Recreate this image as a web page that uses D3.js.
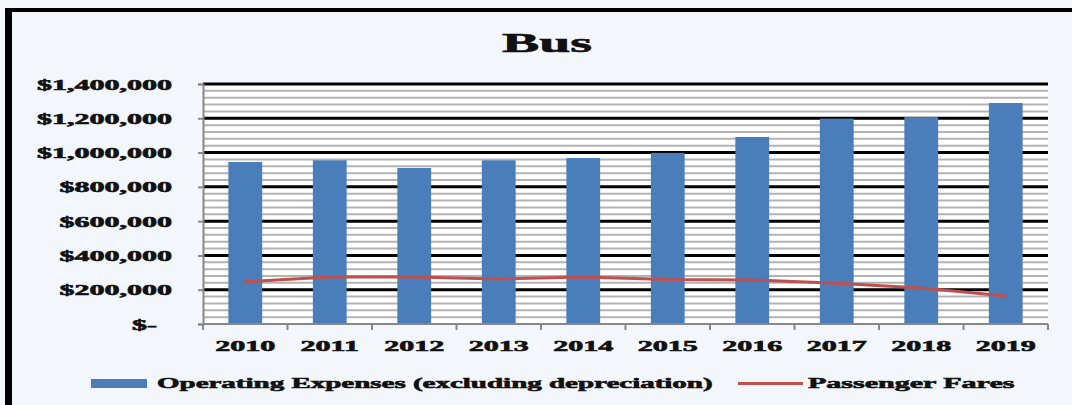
<!DOCTYPE html>
<html>
<head>
<meta charset="utf-8">
<script src="https://cdn.jsdelivr.net/npm/d3@7"></script>
<style>
  html, body { margin: 0; padding: 0; background: #f3f6fb; }
  svg { display: block; }
  text { font-family: "Liberation Serif", "DejaVu Serif", serif; font-weight: bold; fill: #111; stroke: #111; stroke-width: 0.6px; }
</style>
</head>
<body>
<svg id="chart" width="1072" height="405"></svg>
<script>
// Bus: annual operating expenses vs. passenger fares
const years = ["2010", "2011", "2012", "2013", "2014", "2015", "2016", "2017", "2018", "2019"];
const operatingExpenses = [945000, 955000, 910000, 955000, 968000, 998000, 1091000, 1198000, 1207000, 1289000];
const passengerFares = [247000, 274000, 274000, 262000, 274000, 260000, 257000, 237000, 210000, 163000];
const yTicks = [0, 200000, 400000, 600000, 800000, 1000000, 1200000, 1400000];
const yTickLabels = ["$-", "$200,000", "$400,000", "$600,000", "$800,000", "$1,000,000", "$1,200,000", "$1,400,000"];
const seriesNames = ["Operating Expenses (excluding depreciation)", "Passenger Fares"];

const W = 1072, H = 405;
const margin = { left: 203, right: 24, top: 84, bottom: 81 };
const stretch = 2.07;          // wide lettering used throughout
const legendStretch = 2.0;
const barColor = "#4a7ebb";
const lineColor = "#c0504d";

const svg = d3.select("#chart");

// horizontally widen text glyphs around their own anchor x
function widen(sel, f) {
  sel.each(function () {
    const t = d3.select(this);
    const x0 = +t.attr("x") || 0;
    t.attr("transform", `translate(${x0},0) scale(${f},1) translate(${-x0},0)`);
  });
}

// outer frame (top and left edges)
svg.append("rect").attr("x", 5).attr("y", 8).attr("width", W - 5).attr("height", 4).attr("fill", "#000");
svg.append("rect").attr("x", 5).attr("y", 8).attr("width", 7).attr("height", H - 8).attr("fill", "#000");

const x = d3.scaleBand().domain(years).range([margin.left, W - margin.right]).paddingInner(0.6).paddingOuter(0.3);
const y = d3.scaleLinear().domain([0, 1400000]).range([H - margin.bottom, margin.top]);

// plot background
svg.append("rect")
  .attr("x", margin.left).attr("y", y(1400000))
  .attr("width", W - margin.right - margin.left).attr("height", y(0) - y(1400000))
  .attr("fill", "#ffffff");

// minor gridlines every 40,000
const minor = d3.range(40000, 1400000, 40000).filter(v => v % 200000 !== 0);
svg.append("g").selectAll("line").data(minor).join("line")
  .attr("x1", margin.left).attr("x2", W - margin.right)
  .attr("y1", d => y(d)).attr("y2", d => y(d))
  .attr("stroke", "#b3b3b3").attr("stroke-width", 2);

// major gridlines
svg.append("g").selectAll("line").data(yTicks.filter(v => v > 0)).join("line")
  .attr("x1", margin.left).attr("x2", W - margin.right)
  .attr("y1", d => y(d)).attr("y2", d => y(d))
  .attr("stroke", "#000").attr("stroke-width", 3);

// bars
svg.append("g").selectAll("rect").data(years).join("rect")
  .attr("x", d => x(d)).attr("width", x.bandwidth())
  .attr("y", (d, i) => y(operatingExpenses[i]))
  .attr("height", (d, i) => y(0) - y(operatingExpenses[i]))
  .attr("fill", barColor);

// passenger fares line
const line = d3.line()
  .x((d, i) => x(years[i]) + x.bandwidth() / 2)
  .y(d => y(d));
svg.append("path").datum(passengerFares)
  .attr("d", line)
  .attr("fill", "none").attr("stroke", lineColor).attr("stroke-width", 3)
  .attr("stroke-linejoin", "round").attr("stroke-linecap", "round");

// y axis
const yAxis = svg.append("g").attr("transform", `translate(${margin.left},0)`)
  .call(d3.axisLeft(y).tickValues(yTicks).tickFormat((d, i) => yTickLabels[i]).tickSize(5).tickPadding(26));
yAxis.select(".domain").attr("stroke", "#888").attr("stroke-width", 2);
yAxis.selectAll(".tick line").attr("stroke", "#888").attr("stroke-width", 2);
yAxis.selectAll(".tick text")
  .attr("font-size", 14.5).attr("fill", "#111")
  .attr("font-family", "Liberation Serif, serif").attr("font-weight", "bold")
  .attr("dy", "0.35em");
yAxis.selectAll(".tick").filter(d => d === 0).select("text").attr("x", -46);
yAxis.selectAll(".tick text").call(widen, stretch);

// x axis with ticks at category boundaries
const bounds = years.map(d => x(d) - x.step() * x.paddingInner() / 2).concat([W - margin.right]);
const xg = svg.append("g");
xg.append("line")
  .attr("x1", margin.left).attr("x2", W - margin.right)
  .attr("y1", y(0)).attr("y2", y(0))
  .attr("stroke", "#888").attr("stroke-width", 2);
xg.selectAll("line.tk").data(bounds).join("line").attr("class", "tk")
  .attr("x1", d => d).attr("x2", d => d)
  .attr("y1", y(0)).attr("y2", y(0) + 6)
  .attr("stroke", "#888").attr("stroke-width", 2);
xg.selectAll("text").data(years).join("text")
  .attr("x", d => x(d) + x.bandwidth() / 2)
  .attr("y", y(0) + 27)
  .attr("text-anchor", "middle")
  .attr("font-size", 14.5)
  .text(d => d)
  .call(widen, stretch);

// title
svg.append("text")
  .attr("x", 547).attr("y", 52)
  .attr("text-anchor", "middle")
  .attr("font-size", 27)
  .text("Bus")
  .call(widen, stretch);

// legend
const lg = svg.append("g");
lg.append("rect").attr("x", 91).attr("y", 379).attr("width", 56).attr("height", 9).attr("fill", barColor);
lg.append("text").attr("x", 157).attr("y", 388).attr("font-size", 14.5).text(seriesNames[0]).call(widen, legendStretch);
lg.append("line").attr("x1", 738).attr("x2", 803).attr("y1", 383.5).attr("y2", 383.5)
  .attr("stroke", lineColor).attr("stroke-width", 3);
lg.append("text").attr("x", 808).attr("y", 388).attr("font-size", 14.5).text(seriesNames[1]).call(widen, stretch);
</script>
</body>
</html>
